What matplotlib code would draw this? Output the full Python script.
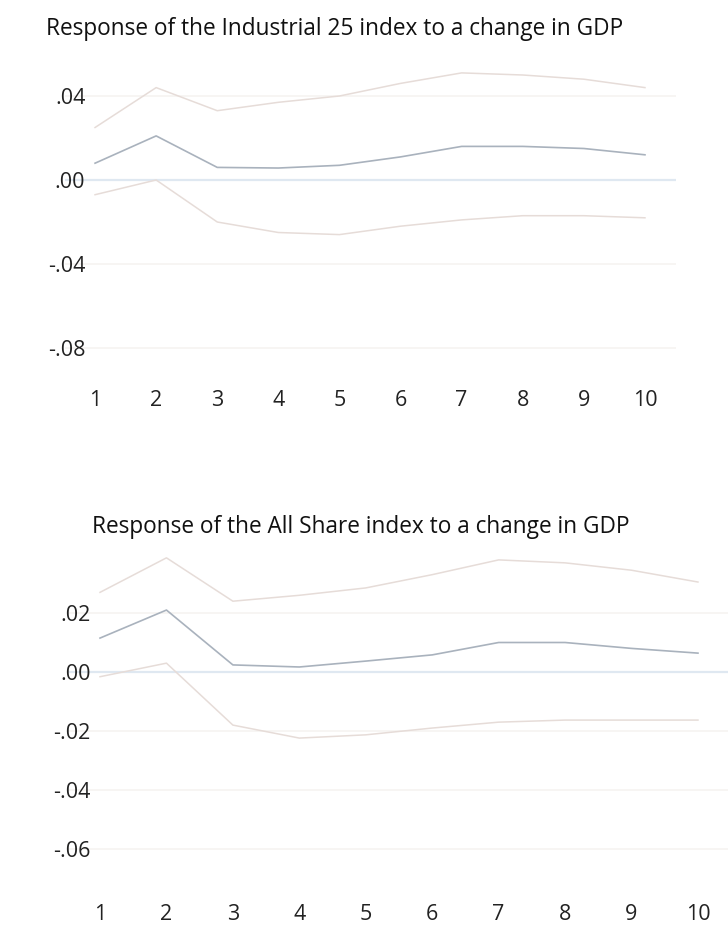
import numpy as np
import matplotlib.pyplot as plt

# impulse response of two share indices to a GDP shock, with +/- 2 s.e. bands
periods = [1, 2, 3, 4, 5, 6, 7, 8, 9, 10]

ind25_resp = [0.008, 0.021, 0.006, 0.0057, 0.007, 0.011, 0.016, 0.016, 0.015, 0.012]
ind25_upper = [0.025, 0.044, 0.033, 0.037, 0.040, 0.046, 0.051, 0.050, 0.048, 0.044]
ind25_lower = [-0.007, 0.0, -0.020, -0.025, -0.026, -0.022, -0.019, -0.017, -0.017, -0.018]

alls_resp = [0.0115, 0.021, 0.0024, 0.0017, 0.0037, 0.0058, 0.010, 0.010, 0.008, 0.0064]
alls_upper = [0.027, 0.0387, 0.024, 0.026, 0.0285, 0.033, 0.038, 0.037, 0.0345, 0.0305]
alls_lower = [-0.0016, 0.003, -0.018, -0.0224, -0.0213, -0.019, -0.017, -0.0163, -0.0163, -0.0163]

ind25_ticks = [0.04, 0.0, -0.04, -0.08]
ind25_labels = [".04", ".00", "-.04", "-.08"]
alls_ticks = [0.02, 0.0, -0.02, -0.04, -0.06]
alls_labels = [".02", ".00", "-.02", "-.04", "-.06"]

W, H = 728, 926
fig = plt.figure(figsize=(W / 100, H / 100), dpi=100)
FONT = "Open Sans"


def px_axes(left, top, right, bottom):
    return fig.add_axes([left / W, 1 - bottom / H, (right - left) / W, (bottom - top) / H])


def draw_panel(ax, resp, upper, lower, ticks, labels, xlim, ylim, ypad, xpad):
    ax.axhline(0, color="#dfe8f1", lw=1.6, zorder=1)
    for t in ticks:
        if t != 0:
            ax.axhline(t, color="#f6f3f1", lw=1.2, zorder=0)
    ax.plot(periods, upper, color="#e6dcd8", lw=1.1, zorder=2)
    ax.plot(periods, lower, color="#e6dcd8", lw=1.1, zorder=2)
    ax.plot(periods, resp, color="#a9b2bd", lw=1.2, zorder=3)
    ax.set_xlim(*xlim)
    ax.set_ylim(*ylim)
    ax.set_xticks(periods)
    ax.set_xticklabels([str(p) for p in periods], fontsize=15.5, family=FONT, color="#222222")
    ax.set_yticks(ticks)
    ax.set_yticklabels(labels, fontsize=15.5, family=FONT, color="#222222")
    ax.tick_params(axis="both", length=0)
    ax.tick_params(axis="y", pad=ypad)
    ax.tick_params(axis="x", pad=xpad)
    for s in ax.spines.values():
        s.set_visible(False)


# top panel: Industrial 25
ax1 = px_axes(64.5, 54, 675.5, 386)
draw_panel(ax1, ind25_resp, ind25_upper, ind25_lower, ind25_ticks, ind25_labels,
           (0.5, 10.5), (-(386 - 180) / 2100, (180 - 54) / 2100), -15, 3)
fig.text(335 / W, 1 - 29 / H, "Response of the Industrial 25 index to a change in GDP",
         ha="center", va="center", fontsize=16.3, family=FONT, color="#111111")

# bottom panel: All Share
ax2 = px_axes(66.8, 545, 728, 898)
draw_panel(ax2, alls_resp, alls_upper, alls_lower, alls_ticks, alls_labels,
           (0.5, 1 + (728 - 100) / 66.44), (-(898 - 672) / 2950, (672 - 545) / 2950), -17, 4)
fig.text(361 / W, 1 - 527 / H, "Response of the All Share index to a change in GDP",
         ha="center", va="center", fontsize=16.3, family=FONT, color="#111111")

fig.savefig("out.png", dpi=100)
